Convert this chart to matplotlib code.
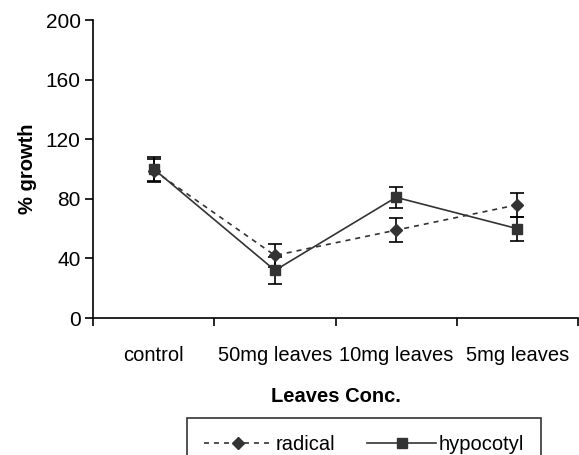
import matplotlib
matplotlib.use("Agg")
import matplotlib.pyplot as plt
from matplotlib.lines import Line2D

# -----------------------------
# Data
# -----------------------------
categories = ["control", "50mg leaves", "10mg leaves", "5mg leaves"]
radical = [99, 42, 59, 76]
radical_err = [8, 8, 8, 8]
hypocotyl = [100, 32, 81, 60]
hypocotyl_err = [8, 9, 7, 8]

plt.rcParams["font.family"] = ["Liberation Sans", "DejaVu Sans"]

fig = plt.figure(figsize=(5.79, 4.55), dpi=100)
ax = fig.add_axes([0.161, 0.301, 0.837, 0.655])

x = list(range(1, len(categories) + 1))
line_color = "#333333"
radical_style = dict(color=line_color, ls=(0, (3, 3)), lw=1.2, marker="D",
                     ms=6.5, mfc=line_color, mec=line_color)
hypocotyl_style = dict(color=line_color, ls="-", lw=1.2, marker="s",
                       ms=7, mfc=line_color, mec=line_color)
err_style = dict(ecolor="black", elinewidth=1.2, capsize=5, capthick=1.2)

ax.errorbar(x, radical, yerr=radical_err, **radical_style, **err_style)
ax.errorbar(x, hypocotyl, yerr=hypocotyl_err, **hypocotyl_style, **err_style)

ax.set_xlim(0.5, len(categories) + 0.5)
ax.set_ylim(0, 200)
ax.set_yticks(range(0, 201, 40))
ax.set_xticks(x)
ax.set_xticklabels(categories)
ax.set_xticks([i + 0.5 for i in range(0, len(categories) + 1)], minor=True)
ax.tick_params(axis="x", which="major", length=0, pad=20, labelsize=14.5)
ax.tick_params(axis="x", which="minor", length=6, width=1.2, direction="out")
ax.tick_params(axis="y", length=6, width=1.2, labelsize=15, pad=3)

for side in ["top", "right"]:
    ax.spines[side].set_visible(False)
for side in ["left", "bottom"]:
    ax.spines[side].set_linewidth(1.2)

ax.set_ylabel("% growth", fontsize=14.5, fontweight="bold", labelpad=6)
ax.set_xlabel("Leaves Conc.", fontsize=14.5, fontweight="bold", labelpad=16)

# legend without error bars, like the original
handles = [Line2D([], [], **radical_style), Line2D([], [], **hypocotyl_style)]
leg = fig.legend(handles, ["radical", "hypocotyl"], loc="upper left",
                 bbox_to_anchor=(0.323, 0.081), ncol=2, borderaxespad=0,
                 fontsize=14.5, frameon=True, fancybox=False, edgecolor="black",
                 handlelength=3.4, handletextpad=0.15, columnspacing=1.6,
                 borderpad=0.85)
leg.get_frame().set_linewidth(1.2)

fig.savefig("out.png", dpi=100)
